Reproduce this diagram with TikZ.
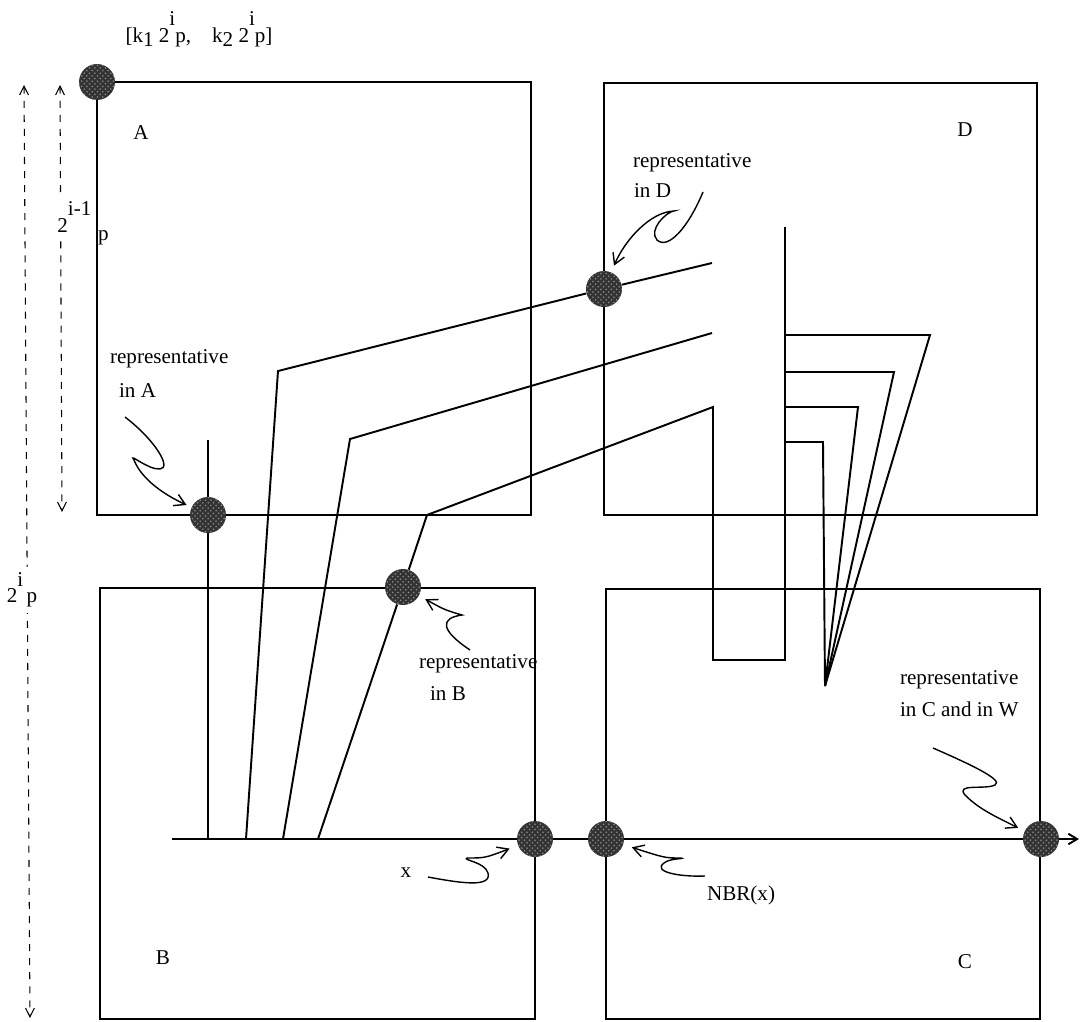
\documentclass[tikz,border=0pt]{standalone}
\usepackage{fontspec}
\setmainfont{Liberation Serif}
\usetikzlibrary{arrows.meta,backgrounds,patterns}

% raised and lowered pieces of the old-style labels
\newcommand{\expo}[1]{\raisebox{1.7ex}{#1}}
\newcommand{\idx}[1]{\raisebox{-0.45ex}{#1}}

\tikzset{
  box/.style={draw, line width=0.6pt},
  wire/.style={line width=1.1pt},
  site/.style={circle, minimum size=0.72cm, inner sep=0pt,
    preaction={fill=black!80}, pattern=crosshatch dots, pattern color=white!55!black},
  squig/.style={line width=0.8pt, -{Straight Barb[length=6pt,width=7pt]}},
  extent/.style={line width=0.6pt, dash pattern=on 4pt off 4pt,
    {Straight Barb[length=5pt,width=5pt]}-{Straight Barb[length=5pt,width=5pt]}},
  lbl/.style={font=\fontsize{12}{14}\selectfont, inner sep=1pt}
}

\begin{document}
\begin{tikzpicture}[x=0.02cm, y=-0.02cm]
  \useasboundingbox (0,0) rectangle (1080,1022);

  % scale arrows on the left
  \coordinate (outTop) at (24,85);  \coordinate (outBot) at (30,1018);
  \coordinate (inTop) at (60,85);   \coordinate (inBot) at (62,512);
  \draw[extent] (outTop) -- (outBot);
  \draw[extent] (inTop) -- (inBot);
  \node[lbl, fill=white, inner sep=3pt] (full) at (22,590) {2\expo{i}\,p};
  \node[lbl, fill=white, inner sep=4pt, anchor=base west] (half) at (50,232) {2\expo{i-1}};
  \node[lbl, anchor=base west] (halfP) at (96,240) {p};

  % the four squares
  \draw[box] (97,82) rectangle (531,515);    % A
  \draw[box] (604,83) rectangle (1037,515);  % D
  \draw[box] (100,588) rectangle (535,1019); % B
  \draw[box] (606,589) rectangle (1040,1019);% C
  \node[lbl] (labA) at (141,133) {A};
  \node[lbl] (labD) at (965,130) {D};
  \node[lbl] (labB) at (163,958) {B};
  \node[lbl] (labC) at (965,962) {C};

  % representatives
  \node[site] (corner) at (97,82) {};
  \node[site] (repA) at (208,515) {};
  \node[site] (repB) at (403,587) {};
  \node[site] (repD) at (604,289) {};
  \node[site] (x) at (535,839) {};
  \node[site] (nbr) at (606,839) {};
  \node[site] (repC) at (1041,839) {};

  % free ends of the paths
  \coordinate (hL) at (172,839);
  \coordinate (hR) at (1079,839);
  \coordinate (vTop) at (208,440);
  \coordinate (vBot) at (208,839);
  \coordinate (w1s) at (246,839); \coordinate (w1k) at (278,371); \coordinate (w1e) at (712,263);
  \coordinate (w2s) at (283,839); \coordinate (w2k) at (350,439); \coordinate (w2e) at (712,333);
  \coordinate (w3s) at (318,839); \coordinate (w3k) at (427,515); \coordinate (w3e) at (713,407);
  \coordinate (uL) at (713,660); \coordinate (uR) at (785,660); \coordinate (uTop) at (785,227);
  \coordinate (apex) at (825,686);

  \begin{scope}[on background layer]
    \draw[wire, -{Straight Barb[length=5pt,width=6pt]}] (hL) -- (x) -- (nbr) -- (repC) -- (hR);
    \draw[wire] (vTop) -- (repA) -- (vBot);
    \draw[wire] (w1s) -- (w1k) -- (repD) -- (w1e);
    \draw[wire] (w2s) -- (w2k) -- (w2e);
    \draw[wire] (w3s) -- (repB) -- (w3k) -- (w3e) -- (uL) -- (uR) -- (uTop);
    % fingers folding back to the apex
    \foreach \y/\r in {335/930, 372/894, 407/858, 442/823}
      \draw[wire] (785,\y) -- (\r,\y) -- (apex);
  \end{scope}

  % corner coordinates
  \node[lbl, anchor=base] (cornerLbl) at (199,42)
    {[k\idx{1} 2\expo{i}p,\quad k\idx{2} 2\expo{i}p]};

  % texts
  \node[lbl, anchor=base west] (tA1) at (108,363) {representative};
  \node[lbl, anchor=base west] (tA2) at (117,397) {in A};
  \node[lbl, anchor=base west] (tD1) at (631,167) {representative};
  \node[lbl, anchor=base west] (tD2) at (632,197) {in D};
  \node[lbl, anchor=base west] (tB1) at (417,668) {representative};
  \node[lbl, anchor=base west] (tB2) at (428,700) {in B};
  \node[lbl, anchor=base west] (tC1) at (898,684) {representative};
  \node[lbl, anchor=base west] (tC2) at (898,716) {in C and in W};
  \node[lbl, anchor=base] (tX) at (406,877) {x};
  \node[lbl, anchor=base west] (tN) at (705,900) {NBR(x)};

  % wavy pointers
  \coordinate (sqA) at (125,417);
  \coordinate (sqD) at (703,192);
  \coordinate (sqB) at (470,650);
  \coordinate (sqX) at (428,877);
  \coordinate (sqN) at (705,876);
  \coordinate (sqC) at (933,748);
  \draw[squig, shorten >=3pt] (sqA) .. controls (155,440) and (172,468) .. (160,469)
    .. controls (148,470) and (128,452) .. (134,460)
    .. controls (142,480) and (165,495) .. (repA);
  \draw[squig, shorten >=4pt] (sqD) .. controls (688,228) and (668,250) .. (657,240)
    .. controls (648,230) and (666,212) .. (674,211)
    .. controls (650,212) and (625,240) .. (repD);
  \draw[squig, shorten >=4pt] (sqB) .. controls (440,630) and (440,618) .. (462,615)
    .. controls (445,610) .. (repB);
  \draw[squig, shorten >=5pt] (sqX) .. controls (460,883) and (492,888) .. (488,873)
    .. controls (485,862) and (462,860) .. (467,858)
    .. controls (485,858) .. (x);
  \draw[squig, shorten >=5pt] (sqN) .. controls (680,877) and (652,872) .. (664,863)
    .. controls (670,858) and (686,859) .. (681,858)
    .. controls (665,858) .. (nbr);
  \draw[squig, shorten >=4pt] (sqC) .. controls (965,762) and (1005,780) .. (995,785)
    .. controls (985,790) and (955,783) .. (965,795)
    .. controls (978,808) and (992,815) .. (repC);
\end{tikzpicture}
\end{document}
